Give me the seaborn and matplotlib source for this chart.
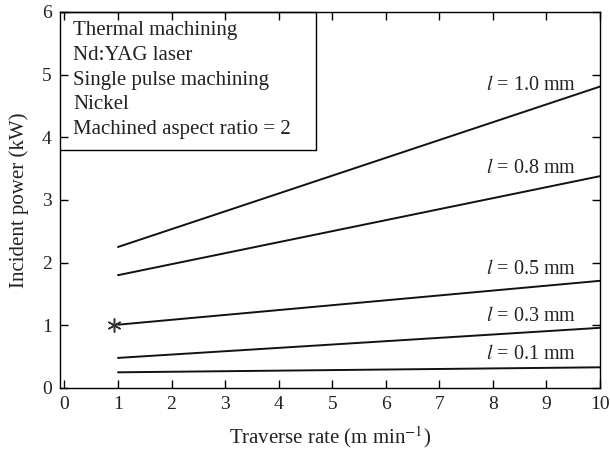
import matplotlib
matplotlib.use("Agg")
import matplotlib.pyplot as plt
import seaborn as sns
import pandas as pd

# Incident power vs traverse rate for several hole depths l
traverse_rate = [1, 10]
depth_labels = ["0.1", "0.3", "0.5", "0.8", "1.0"]
power_01 = [0.25, 0.33]
power_03 = [0.48, 0.96]
power_05 = [1.01, 1.71]
power_08 = [1.80, 3.38]
power_10 = [2.25, 4.81]
label_y = [0.53, 1.14, 1.89, 3.50, 4.83]

experiment_x = [0.93]
experiment_y = [1.01]

info_lines = [
    "Thermal machining",
    "Nd:YAG laser",
    "Single pulse machining",
    "Nickel",
    "Machined aspect ratio = 2",
]

rows = []
for lab, vals in zip(depth_labels, [power_01, power_03, power_05, power_08, power_10]):
    for x, y in zip(traverse_rate, vals):
        rows.append({"rate": x, "power": y, "l": lab})
df = pd.DataFrame(rows)

sns.set_theme(style="ticks")
plt.rcParams["font.family"] = ["Liberation Serif", "DejaVu Serif"]
plt.rcParams["mathtext.fontset"] = "stix"

ink = "#222222"
fig = plt.figure(figsize=(6.10, 4.49), dpi=100)
ax = fig.add_axes([0.0984, 0.1359, 0.8852, 0.8374])

sns.lineplot(data=df, x="rate", y="power", hue="l",
             palette=["#111111"] * len(depth_labels), legend=False,
             linewidth=1.4, ax=ax)

ax.plot(experiment_x, experiment_y, linestyle="none", marker=(6, 2, 0),
        markersize=10, markeredgewidth=1.1, color="#333333")

for lab, y in zip(depth_labels, label_y):
    ax.text(9.56, y, f"$l$ = {lab} mm", ha="right", va="center",
            fontsize=14.5, color=ink)

ax.text(0.16, 5.86, "\n".join(info_lines), ha="left", va="top",
        fontsize=15, linespacing=1.42, color=ink)
# frame of the information panel
ax.plot([-0.082, 4.69, 4.69, -0.082], [3.80, 3.80, 6, 6], color="black",
        linewidth=1.0, clip_on=False)

ax.set_xlim(-0.082, 10)
ax.set_ylim(0, 6)
ax.set_xticks(range(0, 11))
ax.set_yticks(range(0, 7))
ax.tick_params(direction="in", length=5.5, width=1, top=True, right=True,
               labelsize=14, colors="black", pad=6)
for t in ax.get_xticklabels() + ax.get_yticklabels():
    t.set_color(ink)
for s in ax.spines.values():
    s.set_linewidth(1.0)
    s.set_color("black")

ax.set_xlabel("Traverse rate (m min$^{-1}$)", fontsize=15, color=ink, labelpad=8)
ax.set_ylabel("Incident power (kW)", fontsize=15, color=ink, labelpad=9)

fig.savefig("out.png", dpi=100)
